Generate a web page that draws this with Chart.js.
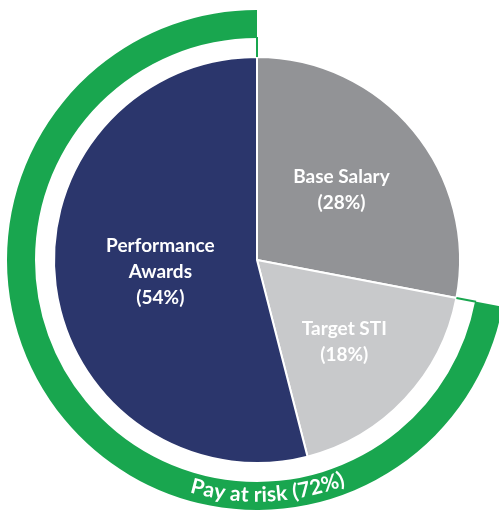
<!DOCTYPE html>
<html>
<head>
<meta charset="utf-8">
<script src="https://cdn.jsdelivr.net/npm/chart.js@4.4.0/dist/chart.umd.min.js"></script>
<style>
  html, body { margin: 0; padding: 0; background: #ffffff; overflow: hidden; }
  #wrap { position: absolute; left: 0; top: 0; width: 514px; height: 520px; }
</style>
</head>
<body>
<div id="wrap"><canvas id="c"></canvas></div>
<script>
// ---- data ----
const categories = ['Base Salary', 'Target STI', 'Performance Awards'];
const shares = [28, 18, 54];
const labelLines = [['Base Salary', '(28%)'], ['Target STI', '(18%)'], ['Performance', 'Awards', '(54%)']];
const riskLabel = 'Pay at risk (72%)';
const riskValues = [shares[0], shares[1] + shares[2]];   // fixed part, at-risk part

const sliceColors = ['#929396', '#c8c9cb', '#2b366c'];
const green = '#19a64f';

const sliceLabels = {
  id: 'sliceLabels',
  afterDatasetsDraw(chart) {
    const ctx = chart.ctx;
    const pieMeta = chart.getDatasetMeta(2);
    ctx.save();
    ctx.fillStyle = '#ffffff';
    ctx.font = 'bold 19px Lato';
    ctx.textAlign = 'center';
    ctx.textBaseline = 'middle';
    const fr = [0.54, 0.59, 0.48];
    pieMeta.data.forEach((arc, i) => {
      const p = arc.getProps(['x', 'y', 'startAngle', 'endAngle', 'outerRadius'], true);
      const a = (p.startAngle + p.endAngle) / 2;
      const r = p.outerRadius * fr[i];
      const cx = p.x + r * Math.cos(a), cy = p.y + r * Math.sin(a);
      const lines = labelLines[i];
      const lh = 26;
      lines.forEach((t, k) => {
        ctx.fillText(t, cx, cy + (k - (lines.length - 1) / 2) * lh);
      });
    });
    // green bracket ticks from pie edge to ring
    const ringArc = chart.getDatasetMeta(0).data[1];
    const rp = ringArc.getProps(['x', 'y', 'startAngle', 'endAngle', 'innerRadius', 'outerRadius'], true);
    const pieR = pieMeta.data[0].getProps(['outerRadius'], true).outerRadius;
    ctx.strokeStyle = green;
    ctx.lineWidth = 2;
    [rp.startAngle, rp.endAngle].forEach(a => {
      ctx.beginPath();
      ctx.moveTo(rp.x + pieR * Math.cos(a), rp.y + pieR * Math.sin(a));
      ctx.lineTo(rp.x + (rp.innerRadius + 1) * Math.cos(a), rp.y + (rp.innerRadius + 1) * Math.sin(a));
      ctx.stroke();
    });
    // curved label on ring
    ctx.font = 'bold 21px Lato';
    ctx.textBaseline = 'middle';
    const r = (rp.innerRadius + rp.outerRadius) / 2 - 1;
    const total = ctx.measureText(riskLabel).width;
    const centerAngle = Math.PI / 2 - 0.045;
    let ang = centerAngle + total / 2 / r;
    for (const ch of riskLabel) {
      const w = ctx.measureText(ch).width;
      const mid = ang - (w / 2) / r;
      ctx.save();
      ctx.translate(rp.x + r * Math.cos(mid), rp.y + r * Math.sin(mid));
      ctx.rotate(mid - Math.PI / 2);
      ctx.textAlign = 'center';
      ctx.fillText(ch, 0, 0);
      ctx.restore();
      ang -= w / r;
    }
    ctx.restore();
  }
};

new Chart(document.getElementById('c'), {
  type: 'doughnut',
  data: {
    labels: categories,
    datasets: [
      { data: riskValues, backgroundColor: ['rgba(0,0,0,0)', green], borderWidth: 0, weight: 28 },
      { data: [100], backgroundColor: ['rgba(0,0,0,0)'], borderWidth: 0, weight: 19 },
      { data: shares, backgroundColor: sliceColors, borderColor: '#ffffff', borderWidth: 2, weight: 203 }
    ]
  },
  options: {
    responsive: true,
    maintainAspectRatio: false,
    animation: false,
    events: [],
    cutout: 0,
    layout: { padding: 7 },
    plugins: { legend: { display: false }, tooltip: { enabled: false } }
  },
  plugins: [sliceLabels]
});
</script>
</body>
</html>
